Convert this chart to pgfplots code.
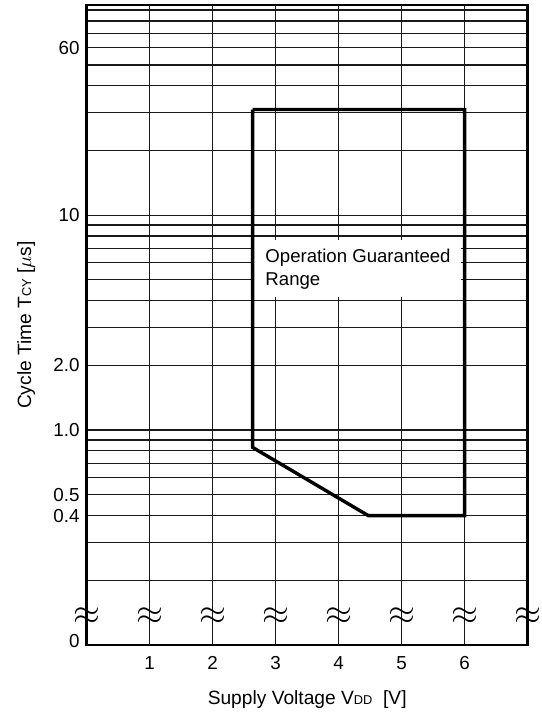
\documentclass[border=0pt]{standalone}
\usepackage{fontspec}
\setmainfont{Liberation Sans}
\usepackage{pgfplots}
\pgfplotsset{compat=1.18}

\begin{document}
\begin{tikzpicture}
\begin{axis}[
  scale only axis,
  width=220.5pt, height=320pt,
  xmin=0, xmax=7,
  ymode=log, ymin=0.1, ymax=95,
  xtick={1,2,3,4,5,6},
  xticklabels={1,2,3,4,5,6},
  ytick={0.4,0.5,1,2,10,60},
  yticklabels={0.4,0.5,1.0,2.0,10,60},
  extra y ticks={0.1},
  extra y tick labels={0},
  extra y tick style={yticklabel style={yshift=2pt}, grid=none},
  minor ytick={0.2,0.3,0.6,0.7,0.8,0.9,3,4,5,6,7,8,9,20,30,40,50,70,80,90},
  major tick length=0pt, minor tick length=0pt,
  xmajorgrids, ymajorgrids, yminorgrids,
  grid style={black!90, line width=0.6pt},
  minor grid style={black!90, line width=0.6pt},
  axis line style={line width=1.2pt},
  tick label style={font=\fontsize{9.4}{11}\selectfont},
  xticklabel style={yshift=-2pt},
  xlabel={Supply Voltage V{\fontsize{6.4}{7}\selectfont DD}\ \ [V]},
  ylabel={Cycle Time T{\fontsize{6.4}{7}\selectfont CY} [$\mu$s]},
  label style={font=\fontsize{9.6}{11}\selectfont},
  xlabel style={at={(axis description cs:0.5,0)}, anchor=base, yshift=-29.5pt},
  ylabel style={at={(axis description cs:-0.1263,0.5)}, anchor=base},
  clip=false,
]
\coordinate (ll) at (rel axis cs:0,0);
\coordinate (ur) at (rel axis cs:1,1);

% label area blanks out the grid
\fill[white] (axis cs:2.635,7.66) rectangle (axis cs:5.94,4.16);

% operation guaranteed range
\addplot[black, line width=1.7pt, line join=miter] coordinates {
  (2.635,31) (2.635,0.83) (4.47,0.4) (6,0.4) (6,31) (2.635,31)
};

\node[anchor=north west, inner sep=0pt, xshift=6.2pt, align=left,
  font=\fontsize{9.3}{11.67}\selectfont] at (axis cs:2.635,7.01)
  {Operation Guaranteed\\Range};

% axis break marks
\pgfplotsinvokeforeach{0,...,7}{
  \node[inner sep=0pt, font=\fontsize{17}{17}\selectfont] at (axis cs:#1,0.1362) {$\approx$};
}
\end{axis}
\path ([shift={(-43.35pt,-37pt)}]ll) rectangle ([shift={(6.15pt,2.5pt)}]ur);
\end{tikzpicture}
\end{document}
